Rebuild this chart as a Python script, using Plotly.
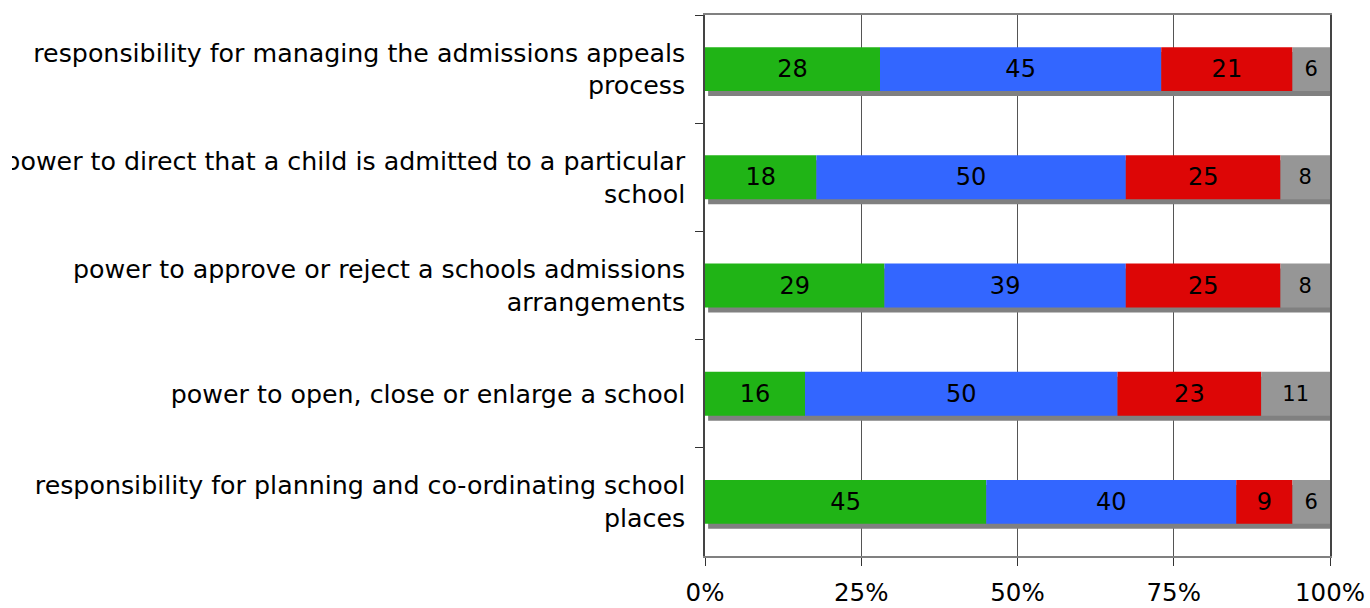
import plotly.graph_objects as go

# Survey responses (percent of respondents) for each statement
categories = [
    "responsibility for managing the admissions appeals<br>process",
    "power to direct that a child is admitted to a particular<br>school",
    "power to approve or reject a schools admissions<br>arrangements",
    "power to open, close or enlarge a school",
    "responsibility for planning and co-ordinating school<br>places",
]
green_vals = [28, 18, 29, 16, 45]
blue_vals = [45, 50, 39, 50, 40]
red_vals = [21, 25, 25, 23, 9]
grey_vals = [6, 8, 8, 11, 6]

series = [
    (green_vals, "#20B416", 24),
    (blue_vals, "#3366FF", 24),
    (red_vals, "#DD0606", 24),
    (grey_vals, "#969696", 21),
]

FONT = "DejaVu Sans"
BAR_W = 0.406          # bar thickness in category units
SHADOW_DY = 0.046      # drop-shadow shift, category units
SHADOW_DX = 0.5        # drop-shadow shift, percent units

# Each row is drawn as a 100% stacked bar
totals = [sum(v) for v in zip(*[s[0] for s in series])]

fig = go.Figure()

# drop shadow behind each full bar
fig.add_trace(go.Bar(
    y=categories, x=[100.0] * len(categories), base=[SHADOW_DX] * len(categories),
    orientation="h", width=BAR_W, offset=-BAR_W / 2 + SHADOW_DY,
    marker=dict(color="#808080", line=dict(width=0)),
    hoverinfo="skip", showlegend=False, opacity=1,
))

cum = [0.0] * len(categories)
for vals, color, fsize in series:
    shares = [v / t * 100 for v, t in zip(vals, totals)]
    fig.add_trace(go.Bar(
        y=categories, x=shares, base=list(cum), orientation="h",
        width=BAR_W, offset=-BAR_W / 2,
        marker=dict(color=color, line=dict(width=0)),
        text=[str(v) for v in vals], textposition="inside",
        insidetextanchor="middle", textangle=0,
        textfont=dict(family=FONT, size=fsize, color="black"),
        showlegend=False, opacity=1,
    ))
    cum = [c + s for c, s in zip(cum, shares)]

fig.update_layout(
    width=1370, height=608,
    margin=dict(l=705, r=40, t=15, b=52, autoexpand=False),
    barmode="overlay",
    plot_bgcolor="white", paper_bgcolor="white",
    font=dict(family=FONT, size=25, color="black"),
)

fig.update_xaxes(
    range=[0, 100], tickvals=[0, 25, 50, 75, 100],
    ticktext=["0%", "25%", "50%", "75%", "100%"],
    tickfont=dict(family=FONT, size=24.5, color="black"),
    showgrid=True, gridcolor="#555555", gridwidth=1,
    showline=True, linecolor="#808080", linewidth=1.5, mirror=True,
    ticks="outside", ticklen=8, tickcolor="#333333",
    ticklabelstandoff=6, zeroline=False, fixedrange=True, automargin=False,
)

fig.update_yaxes(
    type="category", categoryorder="array", categoryarray=categories,
    autorange="reversed", tickson="boundaries",
    tickfont=dict(family=FONT, size=25.3, color="black"),
    showgrid=False, showline=True, linecolor="#444444", linewidth=1.5,
    mirror=True, ticks="outside", ticklen=8, tickcolor="#333333",
    ticklabelstandoff=13, fixedrange=True, automargin=False,
)

# left page edge trims overflowing label text
fig.add_shape(
    type="rect", xref="paper", yref="paper",
    x0=-705 / 625, x1=-693 / 625, y0=0, y1=1.05,
    fillcolor="white", line=dict(width=0), layer="above",
)

fig.write_html("out.html")
